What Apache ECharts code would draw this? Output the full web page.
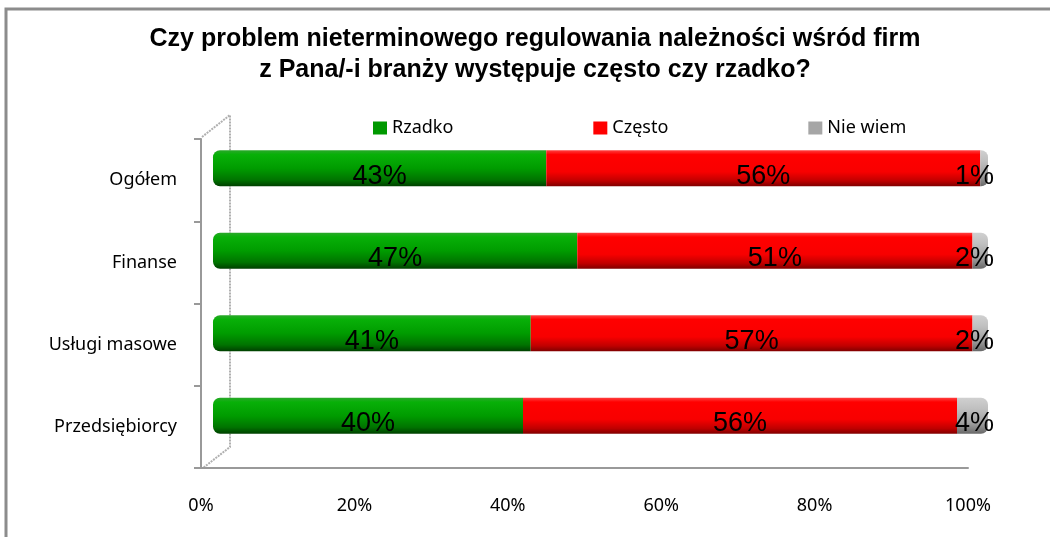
<!DOCTYPE html>
<html><head><meta charset="utf-8">
<script src="https://cdn.jsdelivr.net/npm/echarts@6/dist/echarts.min.js"></script>
<style>html,body{margin:0;padding:0;background:#fff}#c{width:1050px;height:537px}</style>
</head><body><div id="c"></div>
<script>
const categories = ['Ogółem', 'Finanse', 'Usługi masowe', 'Przedsiębiorcy'];
const rzadko = [43, 47, 41, 40];
const czesto = [56, 51, 57, 56];
const nieWiem = [1, 2, 2, 4];
const xTicks = [0, 20, 40, 60, 80, 100];

const chart = echarts.init(document.getElementById('c'));
function grad(stops){return {type:'linear',x:0,y:0,x2:0,y2:1,colorStops:stops.map(s=>({offset:s[0],color:s[1]}))};}
const lbl = {show:true, position:'inside', color:'#000', fontFamily:'Liberation Sans, Arial', fontSize:27, offset:[0,8], formatter:p=>p.value+'%'};
chart.setOption({
  animation:false,
  title:{text:'Czy problem nieterminowego regulowania należności wśród firm\nz Pana/-i branży występuje często czy rzadko?',
    left:530, textAlign:'center', top:19,
    textStyle:{fontFamily:'Liberation Sans, Arial', fontWeight:'bold', fontSize:25, lineHeight:31, color:'#000'}},
  legend:{left:368, top:114, itemWidth:14, itemHeight:13, itemGap:140, icon:'rect',
    textStyle:{fontFamily:'Noto Sans', fontSize:18, color:'#000', padding:[0,0,0,0]},
    data:[{name:'Rzadko',itemStyle:{color:'#009900'}},{name:'Często',itemStyle:{color:'#ff0000'}},{name:'Nie wiem',itemStyle:{color:'#a6a6a6'}}]},
  grid:[
    {left:213, right:62, top:127, bottom:80},
    {left:201, right:82, top:139, bottom:69}
  ],
  xAxis:[
    {gridIndex:0, type:'value', min:0, max:100, show:false},
    {gridIndex:1, type:'value', min:0, max:100, interval:20,
      axisLine:{show:true, lineStyle:{color:'#999', width:2}}, axisTick:{show:false}, splitLine:{show:false},
      axisLabel:{formatter:'{value}%', margin:29, color:'#000', fontFamily:'Noto Sans', fontSize:18}}
  ],
  yAxis:[
    {gridIndex:0, type:'category', data:categories, inverse:true, show:false},
    {gridIndex:1, type:'category', data:categories, inverse:true,
      axisLine:{show:true, lineStyle:{color:'#999', width:2}},
      axisTick:{show:true, inside:false, length:7, lineStyle:{color:'#999', width:2}},
      axisLabel:{margin:24, color:'#000', fontFamily:'Noto Sans', fontSize:18, padding:[4,0,0,0]}}
  ],
  graphic:[
    {type:'rect', shape:{x:6, y:9, width:1200, height:700}, style:{fill:null, stroke:'#8c8c8c', lineWidth:3}, z:-1},
    {type:'polyline', shape:{points:[[202,137],[230,115],[230,447],[203,468]]}, style:{fill:null, stroke:'#b0b0b0', lineWidth:2, lineDash:[2,1]}, z:-1}
  ],
  series:[
    {name:'Rzadko', type:'bar', stack:'a', xAxisIndex:0, yAxisIndex:0, data:rzadko, barWidth:36,
      itemStyle:{color:grad([[0,'#2aa82a'],[0.12,'#08b008'],[0.5,'#009c00'],[0.82,'#007400'],[1,'#004000']]), borderRadius:[7,0,0,7]}, label:lbl},
    {name:'Często', type:'bar', stack:'a', xAxisIndex:0, yAxisIndex:0, data:czesto, barWidth:36,
      itemStyle:{color:grad([[0,'#ff4040'],[0.12,'#ff0000'],[0.6,'#f80000'],[0.85,'#c00000'],[1,'#800000']])}, label:lbl},
    {name:'Nie wiem', type:'bar', stack:'a', xAxisIndex:0, yAxisIndex:0, data:nieWiem, barWidth:36,
      itemStyle:{color:grad([[0,'#d0d0d0'],[0.3,'#c0c0c0'],[0.7,'#a0a0a0'],[1,'#686868']]), borderRadius:[0,7,7,0]},
      label:Object.assign({}, lbl, {position:'insideRight', distance:0, offset:[6,8]})}
  ]
});
</script></body></html>
